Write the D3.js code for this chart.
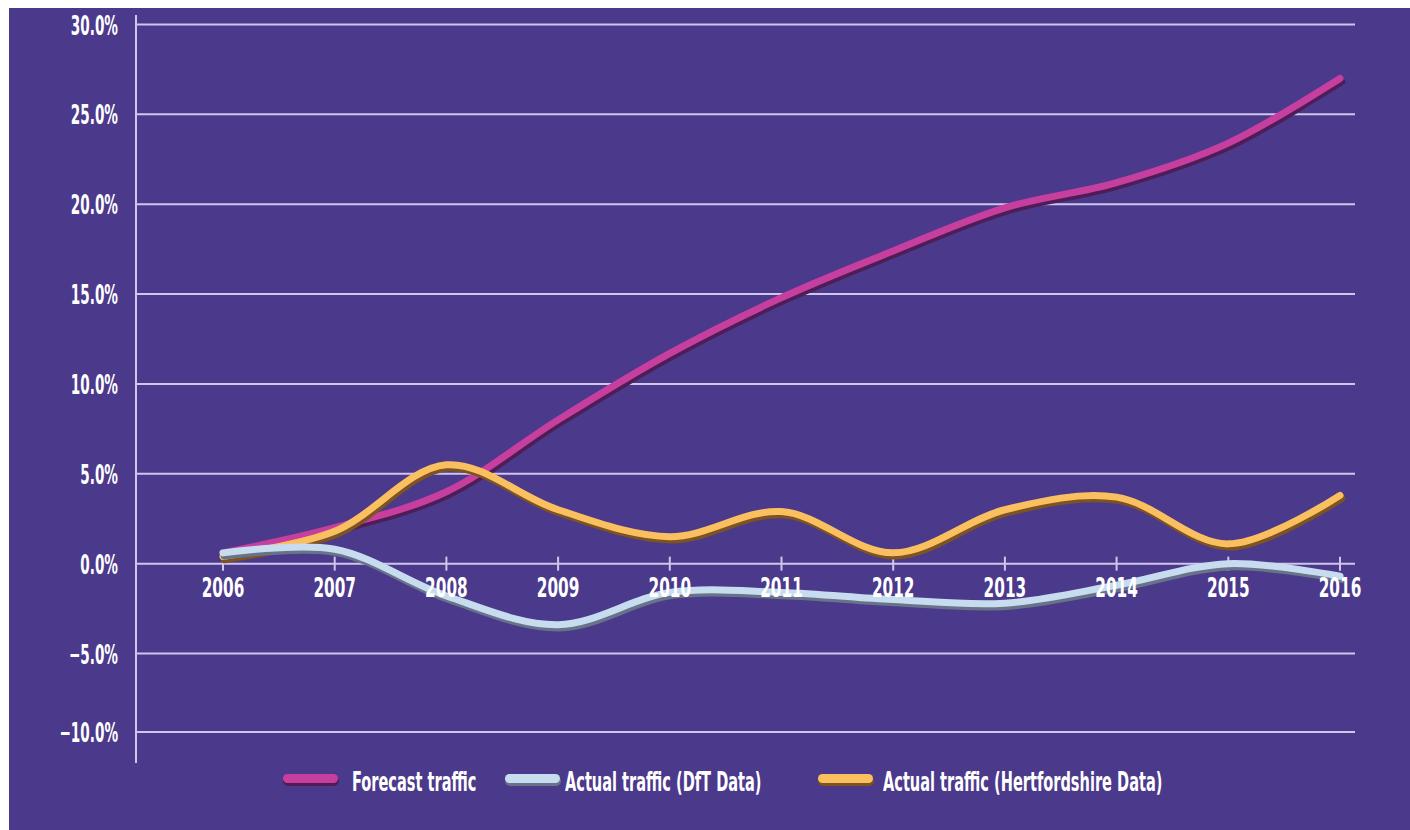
<!DOCTYPE html>
<html>
<head>
<meta charset="utf-8">
<script src="https://cdn.jsdelivr.net/npm/d3@7"></script>
<style>
  html, body { margin: 0; padding: 0; background: #ffffff; }
  svg { display: block; }
  text { font-family: "DejaVu Sans Condensed", "Liberation Sans Narrow", sans-serif; font-weight: bold; fill: #ffffff; }
</style>
</head>
<body>
<svg id="chart" width="1410" height="830"></svg>
<script>
// Years on the horizontal axis
const years = [2006, 2007, 2008, 2009, 2010, 2011, 2012, 2013, 2014, 2015, 2016];

// Cumulative change in traffic since 2006 (%)
const forecastTraffic = [0.6, 2.0, 4.0, 8.0, 11.7, 14.8, 17.4, 19.8, 21.2, 23.4, 27.0];
const dftTraffic      = [0.6, 0.8, -1.8, -3.4, -1.6, -1.6, -2.0, -2.2, -1.2, 0.0, -0.7];
const hertsTraffic    = [0.4, 1.8, 5.5, 3.0, 1.5, 2.9, 0.6, 3.0, 3.7, 1.1, 3.8];

// Vertical axis ticks
const yTicks = [30, 25, 20, 15, 10, 5, 0, -5, -10];

// Legend labels
const seriesNames = ["Forecast traffic", "Actual traffic (DfT Data)", "Actual traffic (Hertfordshire Data)"];

const series = [
  { name: seriesNames[0], values: forecastTraffic, color: "#c63f9f", shade: "#4e1d55" },
  { name: seriesNames[1], values: dftTraffic,      color: "#c7dcef", shade: "#687389" },
  { name: seriesNames[2], values: hertsTraffic,    color: "#fac060", shade: "#7d5322" }
];

const svg = d3.select("#chart");
const W = 1410, H = 830;

// purple panel
svg.append("rect").attr("x", 9).attr("y", 8).attr("width", W - 9).attr("height", H - 8).attr("fill", "#4b398b");

const x = d3.scaleLinear().domain([2006, 2016]).range([223, 1340]);
const y = d3.scaleLinear().domain([-10, -5, 30]).range([732, 653.5, 24.5]);

const gridLeft = 136, gridRight = 1355;
const gridColor = "#cfc6ee";
const fontSize = 27;

// gridlines
svg.append("g").selectAll("line").data(yTicks).join("line")
  .attr("x1", gridLeft).attr("x2", gridRight)
  .attr("y1", d => y(d)).attr("y2", d => y(d))
  .attr("stroke", gridColor).attr("stroke-width", 2);

// vertical axis line
svg.append("line").attr("x1", gridLeft).attr("x2", gridLeft)
  .attr("y1", 15).attr("y2", 763)
  .attr("stroke", gridColor).attr("stroke-width", 2);

// y tick labels (squeezed horizontally for condensed lettering)
svg.append("g").selectAll("text").data(yTicks).join("text")
  .attr("transform", d => `translate(118,${y(d) + 10}) scale(0.56,1)`)
  .attr("text-anchor", "end")
  .attr("font-size", fontSize)
  .text(d => d3.format(".1f")(d).replace("-", "\u2013") + "%");

// year ticks across the zero line
svg.append("g").selectAll("line").data(years).join("line")
  .attr("x1", d => x(d)).attr("x2", d => x(d))
  .attr("y1", y(0) - 7).attr("y2", y(0) + 7)
  .attr("stroke", gridColor).attr("stroke-width", 2);

// series lines: dark offset shadow then bright stroke
const line = d3.line()
  .x((d, i) => x(years[i]))
  .y(d => y(d))
  .curve(d3.curveCatmullRom.alpha(0.5));

const lines = svg.append("g");
// draw order: forecast, herts, dft
[series[0], series[2], series[1]].forEach(s => {
  lines.append("path").attr("d", line(s.values))
    .attr("fill", "none").attr("stroke", s.shade).attr("stroke-width", 7.5)
    .attr("stroke-linecap", "round").attr("stroke-linejoin", "round")
    .attr("transform", "translate(1.5,3)");
  lines.append("path").attr("d", line(s.values))
    .attr("fill", "none").attr("stroke", s.color).attr("stroke-width", 7)
    .attr("stroke-linecap", "round").attr("stroke-linejoin", "round");
});

// year labels
svg.append("g").selectAll("text").data(years).join("text")
  .attr("transform", d => `translate(${x(d)},${y(0) + 33}) scale(0.63,1)`)
  .attr("text-anchor", "middle")
  .attr("font-size", fontSize)
  .text(d => d);

// legend
const legendStarts = [283, 505, 818];
const textGap = [69, 60, 65];
const legendY = 780;
const lg = svg.append("g");
series.forEach((s, i) => {
  const g = lg.append("g").attr("transform", `translate(${legendStarts[i]},${legendY})`);
  g.append("rect").attr("x", 0).attr("y", -4).attr("width", 56).attr("height", 10).attr("rx", 5)
    .attr("fill", s.shade);
  g.append("rect").attr("x", 0).attr("y", -6).attr("width", 55).attr("height", 9).attr("rx", 4.5)
    .attr("fill", s.color);
  g.append("text")
    .attr("transform", `translate(${textGap[i]},11) scale(0.6,1)`)
    .attr("font-size", fontSize)
    .text(s.name);
});
</script>
</body>
</html>
